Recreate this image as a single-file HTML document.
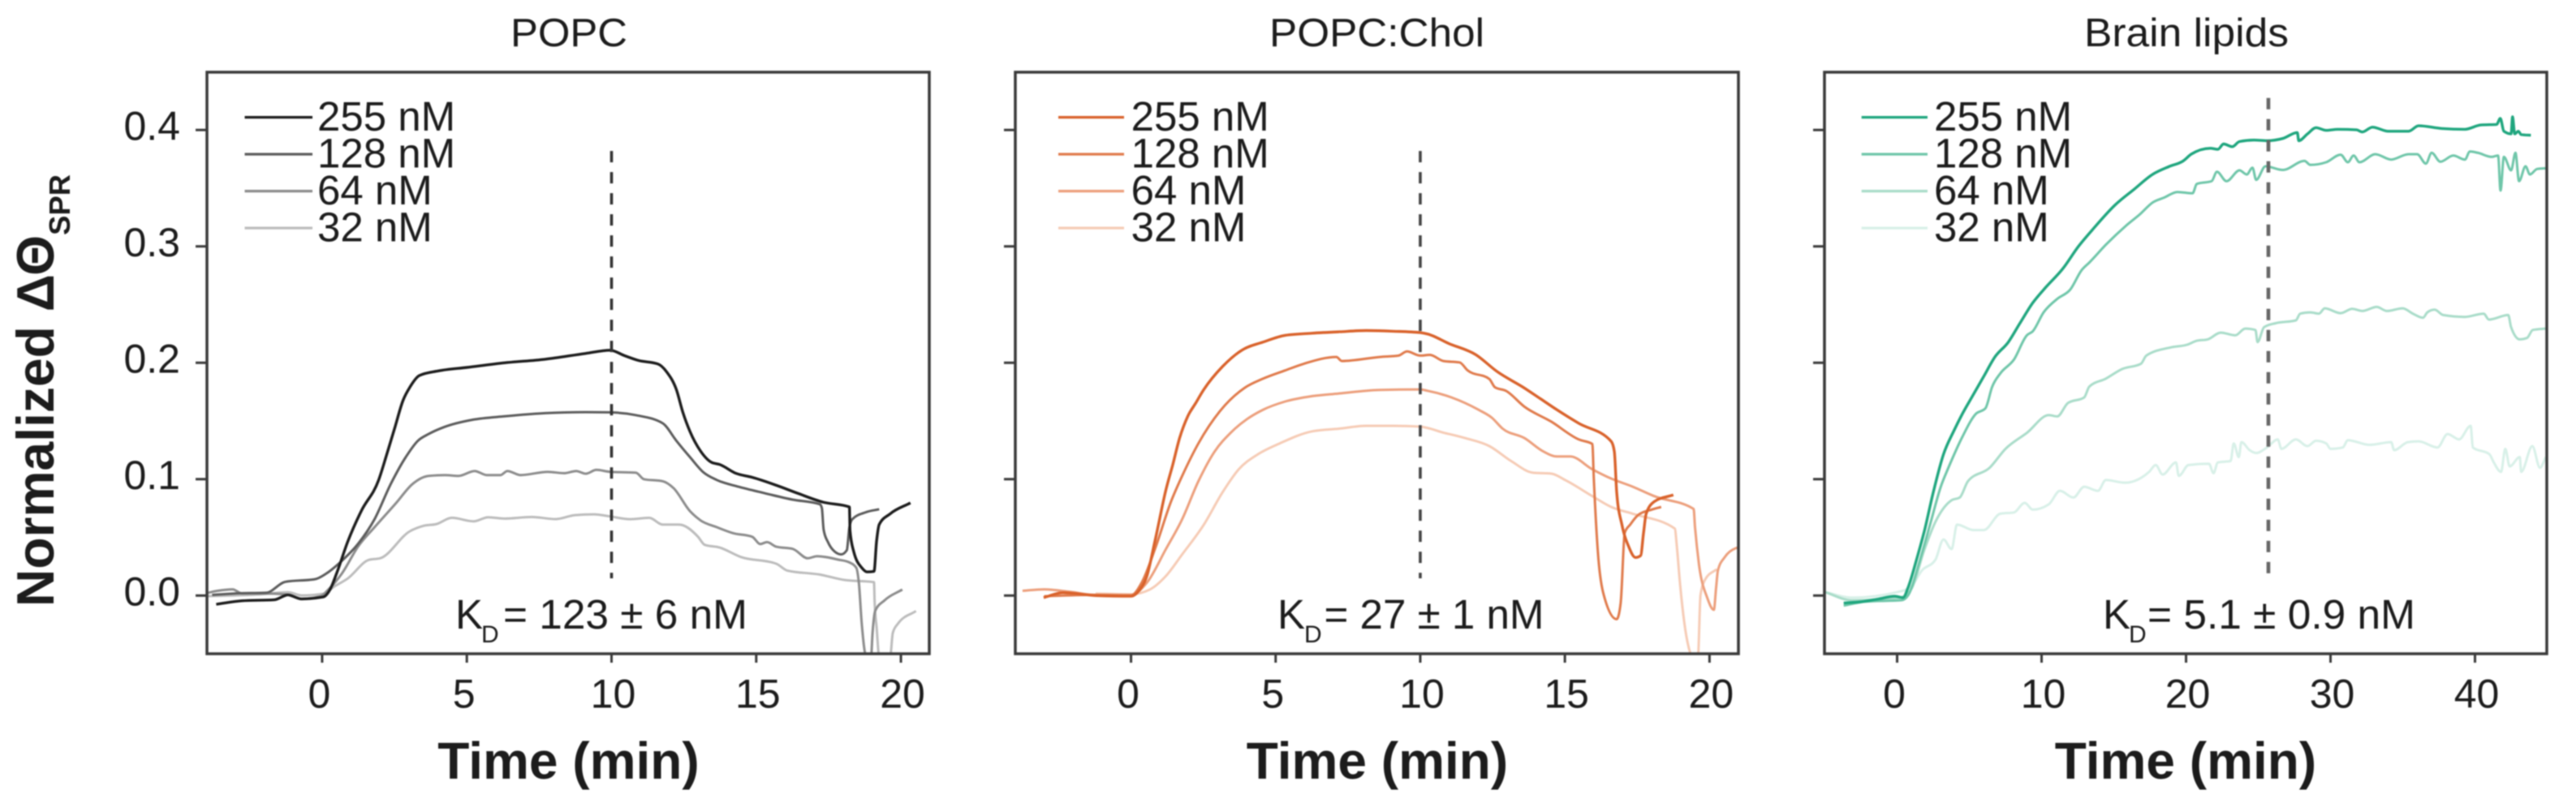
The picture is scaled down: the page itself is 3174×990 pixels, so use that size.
<!DOCTYPE html>
<html lang="en">
<head>
<meta charset="utf-8">
<title>Normalized SPR binding curves</title>
<style>
html,body{margin:0;padding:0;background:#fff;width:3174px;height:990px;overflow:hidden}
svg{display:block;filter:blur(0.8px)}
text{font-family:"Liberation Sans",Arial,sans-serif;fill:#1c1c1c}
.title{font-size:49px}
.legend{font-size:51px}
.tick{font-size:50px}
.kd{font-size:51px}
.kdsub{font-size:30px}
.axis{font-size:64px;font-weight:bold}
</style>
</head>
<body>
<svg id="chart" xmlns="http://www.w3.org/2000/svg" width="3174" height="990" viewBox="0 0 3174 990">
  <rect x="0" y="0" width="3174" height="990" fill="#fff"/>

  <text class="axis" transform="translate(66,748) rotate(-90)" style="font-size:65px" textLength="458" lengthAdjust="spacingAndGlyphs">Normalized ΔΘ</text>
  <text transform="translate(86,290) rotate(-90)" style="font-size:36px;font-weight:bold" textLength="75" lengthAdjust="spacingAndGlyphs">SPR</text>

  <text class="title" x="629" y="57" textLength="144" lengthAdjust="spacingAndGlyphs">POPC</text>
  <text class="title" x="1564" y="57" textLength="265" lengthAdjust="spacingAndGlyphs">POPC:Chol</text>
  <text class="title" x="2568" y="57" textLength="252" lengthAdjust="spacingAndGlyphs">Brain lipids</text>

  <text class="axis" x="700.5" y="960" text-anchor="middle">Time (min)</text>
  <text class="axis" x="1697" y="960" text-anchor="middle">Time (min)</text>
  <text class="axis" x="2693" y="960" text-anchor="middle">Time (min)</text>

  <g>
    <text class="kd" x="561" y="775">K</text>
    <text class="kdsub" x="593" y="792">D</text>
    <text class="kd" x="620" y="775" textLength="301" lengthAdjust="spacingAndGlyphs">= 123 ± 6 nM</text>
  </g>
  <g>
    <text class="kd" x="1574" y="775">K</text>
    <text class="kdsub" x="1607" y="792">D</text>
    <text class="kd" x="1631.5" y="775" textLength="271" lengthAdjust="spacingAndGlyphs">= 27 ± 1 nM</text>
  </g>
  <g>
    <text class="kd" x="2591" y="775">K</text>
    <text class="kdsub" x="2623" y="792">D</text>
    <text class="kd" x="2646" y="775" textLength="330" lengthAdjust="spacingAndGlyphs">= 5.1 ± 0.9 nM</text>
  </g>
</svg>

<script>
/* ---------- shared labels ---------- */
const concentrations = ["255 nM", "128 nM", "64 nM", "32 nM"];
const yTickValues = [0, 0.1, 0.2, 0.3, 0.4];
const yTickLabels = ["0.0", "0.1", "0.2", "0.3", "0.4"];
const popcXTicks = [0, 5, 10, 15, 20];
const cholXTicks = [0, 5, 10, 15, 20];
const brainXTicks = [0, 10, 20, 30, 40];

/* ---------- POPC ---------- */
const popc255Time = [-3.66,-2.77,-1.65,-1.18,-.71,.04,.27,.5,.88,1.35,1.95,2.23,2.52,2.8,3.03,3.36,4.01,5,6.3,7.7,9.1,9.95,10.46,10.93,11.6,11.91,12.24,12.47,12.71,13.08,13.45,13.74,14.3,14.86,15.7,16.45,17.3,18.22,18.24,18.37,18.65,18.83,19.07,19.16,19.25,19.63,20.33];
const popc255Value = [-.0075,-.0045,-.0036,.0006,-.0029,-.0012,.005,.019,.046,.0726,.099,.121,.145,.168,.179,.189,.193,.196,.2,.203,.208,.2108,.206,.202,.199,.192,.177,.157,.141,.124,.1145,.1126,.105,.1016,.0947,.0877,.0803,.0761,.056,.0378,.0238,.0203,.0208,.047,.061,.0703,.0796];
const popc128Time = [-3.8,-3.05,-1.93,-1.27,-.24,.13,.6,1.25,1.81,2.37,2.89,3.31,3.68,4.24,5.18,6.3,7.7,9.1,9.95,10.84,11.77,12.24,12.71,13.17,13.64,14.39,15.33,16.26,17.2,17.27,17.33,17.48,17.71,17.94,18.13,18.22,18.32,18.78,19.25];
const popc128Value = [.0006,.0018,.0025,.0118,.0141,.0187,.028,.0447,.0656,.0958,.119,.133,.1388,.145,.151,.154,.1567,.1576,.1574,.155,.148,.133,.119,.106,.0993,.0935,.0877,.0824,.0784,.075,.0564,.0459,.0378,.0354,.039,.0587,.0656,.0715,.0742];
const popc64Time = [-3.98,-3.61,-3.09,-2.77,-2.02,-1.27,-.71,-.06,.22,.69,1.25,1.81,2.56,3.12,3.68,4.24,4.71,5.27,5.69,6.16,6.4,6.86,7.8,8.36,8.78,9.11,9.48,9.95,10.84,11.12,11.77,12.14,12.71,13.08,13.64,14.2,14.86,15.14,15.37,15.7,16.26,16.78,17.1,17.85,18.22,18.46,18.55,18.65,18.8,18.97,19.02,19.11,19.44,20.05];
const popc64Value = [.0022,.0041,.0053,.0018,.0018,.0011,-.0029,-.0006,.0053,.0192,.0424,.0587,.0796,.0958,.1028,.1035,.1028,.107,.1035,.1035,.107,.1035,.1063,.1051,.107,.1047,.108,.1063,.1056,.1,.0982,.0924,.0726,.0645,.0587,.0536,.0505,.0443,.0459,.0419,.0401,.032,.0338,.0308,.0285,.0238,.0099,-.025,-.052,-.052,-.032,-.0133,-.004,.0052];
const popc32Time = [-3.98,-3.05,-2.11,-1.18,-.71,.04,.41,.88,1.63,2,3.03,3.5,3.96,4.48,5.23,5.74,6.3,7.24,8.08,8.73,9.39,9.95,10.65,11.3,11.77,12.33,12.99,13.22,13.74,14.48,15.7,16.07,17.2,18.04,19.07,19.09,19.16,19.25,19.63,19.72,19.91,20.52];
const popc32Value = [-.0005,.0001,.0011,.0029,.0001,.0015,.0076,.0146,.0308,.032,.0552,.0599,.0615,.0668,.0638,.0673,.0661,.0675,.0657,.0691,.0698,.068,.0656,.0668,.061,.061,.0505,.0436,.0412,.0331,.0273,.0215,.018,.0134,.0115,-.004,-.0273,-.052,-.052,-.032,-.0238,-.0133];

/* ---------- POPC:Chol ---------- */
const chol255Time = [-3.02,-2.35,-1.22,-.01,.27,.55,.83,1.21,1.44,1.68,1.96,2.24,2.52,3.17,3.83,4.57,5.33,6.26,7.19,8.13,9.07,10,10.24,10.98,11.92,12.67,13.6,14.16,14.72,15.47,16.6,16.71,16.79,16.97,17.2,17.44,17.62,17.72,17.81,18.09,18.75];
const chol255Value = [-.0017,.0025,0,-.0006,.0041,.0169,.047,.0912,.1121,.1353,.1539,.1655,.1771,.1969,.2108,.2178,.2236,.2254,.2266,.2277,.2271,.2259,.2248,.2166,.2069,.1922,.1783,.169,.1597,.1481,.1325,.1237,.0888,.061,.0424,.0327,.0343,.054,.0703,.0807,.0865];
const chol128Time = [-3,-1.22,-.01,.37,.83,1.4,1.77,2.33,3.08,3.92,4.57,5.33,5.98,7.1,7.29,8.6,9.25,9.54,10,10.33,10.8,11.36,11.64,12.39,12.58,12.96,13.61,14.54,15.48,15.95,16,16.14,16.32,16.79,16.93,17.07,17.26,17.53,18,18.33];
const chol128Value = [-.0006,.0006,0,.0111,.0401,.0819,.1028,.1307,.1586,.1783,.1864,.1934,.1992,.205,.2015,.205,.2062,.2097,.2062,.2068,.2015,.2003,.1934,.186,.179,.1759,.1621,.1492,.1341,.1302,.1005,.0377,.0029,-.0203,-.0064,.054,.061,.0691,.0738,.0761];
const chol64Time = [-3.75,-3,-2.16,-1.22,-.01,.55,1.21,1.77,2.33,2.89,3.45,4.01,4.57,5.33,6.26,7.19,8.6,10,10.24,11.08,12.01,12.48,12.85,13.6,14.26,14.72,15.19,15.94,16.6,17.35,18.09,19.45,19.5,19.64,19.92,20.15,20.23,20.29,20.53,20.9,21];
const chol64Value = [.0041,.0053,.0034,.0006,.0006,.0111,.0401,.0656,.0982,.1237,.14,.1516,.1597,.1667,.1713,.1736,.1767,.1771,.176,.1702,.1597,.1527,.1434,.1353,.1237,.1195,.1195,.1086,.1005,.0935,.0854,.0744,.0587,.0261,-.0018,-.0122,.0076,.0215,.0331,.0406,.0413];
const chol32Time = [-1.22,-.01,.65,1.21,1.77,2.52,3.17,3.73,4.39,5.14,6.26,7.19,8.13,9.07,10,10.8,11.55,12.39,13.14,13.89,14.54,15.01,15.95,16.6,17.35,18.8,18.87,18.99,19.23,19.41,19.6,19.69,19.87,20.25];
const chol32Value = [.0018,.0011,.0052,.0169,.0354,.061,.0889,.1086,.1214,.1307,.1411,.1434,.1458,.1458,.1451,.14,.1353,.1284,.1156,.1056,.1047,.0993,.0854,.0761,.0703,.0575,.0424,.0076,-.0389,-.052,-.052,.0006,.0146,.0227];

/* ---------- Brain lipids ---------- */
const brain255Time = [-3.7,-2.4,-1.28,-.16,.4,.78,1.34,1.9,2.46,3.21,3.96,4.52,5.27,6.02,6.77,7.7,8.45,9.39,10.33,11.45,12.57,13.5,15.1,16.4,17.7,18.8,19.8,20.36,21.68,22.2,22.6,23.2,23.7,24.7,25.6,26.7,27.7,27.8,28.4,29,29.7,30.5,31.8,32.2,32.9,34,35.4,36.1,37.7,39.3,40.4,41.5,41.75,42,42.5,42.6,42.75,43,43.2,43.87];
const brain255Value = [-.0064,-.0052,-.0029,-.0006,-.0018,.0076,.0308,.0563,.0865,.1214,.1423,.1562,.1725,.1888,.205,.2178,.2329,.2515,.2654,.2805,.3003,.314,.3357,.349,.362,.3685,.3734,.3792,.3843,.3834,.388,.3857,.3901,.3913,.3908,.3927,.3978,.3908,.3966,.402,.3997,.4006,.4001,.3983,.4024,.3989,.3989,.4036,.4013,.4006,.4043,.4048,.4099,.3989,.3966,.4113,.3966,.3989,.396,.3955];
const brain128Time = [-3.7,-2.2,.3,.78,1.53,2.28,3.02,3.59,4.52,5.46,6.11,6.58,7.15,8.08,8.98,9.39,10.14,11.08,12,12.76,13.32,14.45,15.87,16.8,17.7,18.5,19.4,20.45,20.75,21.77,22.14,22.8,23.7,24.2,24.6,24.85,25.5,26.7,28.2,28.6,29.7,30.7,31.2,31.6,32,33.1,34.2,35.4,36,36.6,37,37.6,38.5,39.3,39.65,40.2,41.15,41.6,41.77,42,42.5,42.8,43.05,43.5,43.8,44.3,44.9];
const brain128Value = [-.0087,-.0052,-.004,.0006,.0285,.061,.0935,.111,.1365,.1562,.1609,.1795,.191,.2027,.2236,.2271,.2433,.2549,.2631,.2794,.2863,.3014,.318,.3275,.3378,.342,.3467,.3456,.3537,.356,.3641,.356,.3653,.3618,.3676,.3572,.3688,.3657,.3734,.37,.3723,.3788,.3723,.3781,.3723,.3792,.3746,.3792,.3792,.3711,.3804,.3727,.378,.3746,.3816,.3804,.3769,.3781,.3479,.3769,.3653,.3804,.356,.3688,.3618,.3665,.3671];
const brain64Time = [-5,-3.15,.2,.96,1.9,2.65,3.77,4.33,4.9,6.4,7.5,9,10.5,11.08,11.83,12.95,13.3,14.45,15.57,16.88,17.25,18.94,20.07,20.75,21.5,22.4,23.4,24.1,24.8,24.95,25.4,26.2,27.6,27.9,28.6,29.2,29.6,30.7,31.5,32.2,33.2,33.9,35,35.7,36.4,36.7,37.2,37.8,39.3,40.6,40.97,42.3,42.5,43.1,43.6,44,44.9];
const brain64Value = [.003,-.0041,-.0017,.0052,.04,.0633,.0819,.0842,.0982,.1098,.126,.14,.155,.1539,.1655,.1702,.1795,.1864,.1946,.1992,.2062,.2132,.2155,.2189,.2201,.2259,.2236,.2294,.2282,.2178,.2306,.234,.2364,.2422,.2433,.2422,.2468,.2426,.2463,.2445,.248,.2445,.2468,.2422,.2387,.2433,.2456,.241,.2394,.2422,.2371,.241,.2306,.2201,.2213,.2282,.2294];
const brain32Time = [-5,-3.15,.03,.96,1.71,2.65,3.21,3.77,4.15,5.27,6,7.14,8.08,8.83,9.39,10.5,11.27,12.2,12.95,13.9,14.45,15.76,17.44,17.9,18.38,19.3,19.5,20.16,21.58,21.9,22.2,23.08,23.3,23.65,23.83,24.4,24.85,25.6,26.35,26.6,27.6,28.4,29,29.7,30,30.85,31.2,32.7,34.2,34.4,35.35,36.1,37.4,38.1,38.9,39.7,39.85,41,41.3,41.8,42.1,42.4,43.1,43.2,43.97,44.5,44.9];
const brain32Value = [.003,-.0018,.003,.0076,.0215,.0308,.0482,.04,.061,.0563,.0563,.0703,.0714,.0796,.0738,.0784,.09,.0842,.0935,.09,.0993,.097,.1063,.1121,.104,.1144,.1028,.1121,.1133,.1051,.1144,.1156,.1307,.119,.1318,.1249,.1225,.1272,.1342,.126,.1342,.1284,.133,.1307,.126,.1272,.1335,.1295,.1318,.1249,.1318,.1325,.1272,.1388,.1342,.1458,.1272,.1214,.1144,.1063,.126,.111,.119,.1063,.1284,.1098,.119];

/* ---------- vertical dashed markers (time, value range) ---------- */
const popcMarker = [10, 0.0148, 0.382];
const cholMarker = [10, 0.0148, 0.382];
const brainMarker = [25.7, 0.0148, 0.4275];

const SVGNS = "http://www.w3.org/2000/svg";
const root = document.getElementById("chart");

function make(tag, attrs, parent) {
  const node = document.createElementNS(SVGNS, tag);
  for (const k in attrs) node.setAttribute(k, attrs[k]);
  parent.appendChild(node);
  return node;
}

/* monotone cubic path: smooth between read points, never overshoots them */
function monotonePath(xs, ys) {
  const n = xs.length;
  const slopes = new Array(n).fill(0);
  for (let i = 1; i < n - 1; i++) {
    const h0 = xs[i] - xs[i - 1];
    const h1 = xs[i + 1] - xs[i];
    const s0 = (ys[i] - ys[i - 1]) / h0;
    const s1 = (ys[i + 1] - ys[i]) / h1;
    const p = (s0 * h1 + s1 * h0) / (h0 + h1);
    slopes[i] = (Math.sign(s0) + Math.sign(s1)) * Math.min(Math.abs(s0), Math.abs(s1), 0.5 * Math.abs(p));
  }
  slopes[0] = (ys[1] - ys[0]) / (xs[1] - xs[0]);
  slopes[n - 1] = (ys[n - 1] - ys[n - 2]) / (xs[n - 1] - xs[n - 2]);
  let d = "M" + xs[0].toFixed(1) + " " + ys[0].toFixed(1);
  for (let i = 0; i < n - 1; i++) {
    const dx = (xs[i + 1] - xs[i]) / 3;
    d += "C" + (xs[i] + dx).toFixed(1) + " " + (ys[i] + dx * slopes[i]).toFixed(1) + " "
      + (xs[i + 1] - dx).toFixed(1) + " " + (ys[i + 1] - dx * slopes[i + 1]).toFixed(1) + " "
      + xs[i + 1].toFixed(1) + " " + ys[i + 1].toFixed(1);
  }
  return d;
}

function drawPanel(cfg) {
  const xScale = t => cfg.left + (t - cfg.xMin) * (cfg.right - cfg.left) / (cfg.xMax - cfg.xMin);
  const yScale = v => 806 - (v - (-0.05)) * 1435;

  const group = make("g", {}, root);
  
  

  const clip = make("clipPath", { id: cfg.id + "-clip" }, group);
  make("rect", { x: cfg.left, y: 89, width: cfg.right - cfg.left, height: 717 }, clip);

  /* traces, lightest first */
  const traces = make("g", { "clip-path": "url(#" + cfg.id + "-clip)" }, group);
  
  
  for (let s = cfg.series.length - 1; s >= 0; s--) {
    const ser = cfg.series[s];
    const d = monotonePath(ser.time.map(xScale), ser.value.map(yScale));
    const line = make("path", { d: d, fill: "none", stroke: cfg.colors[s], "stroke-width": s === 0 ? 3.4 : 3, "stroke-linejoin": "round" }, traces);
    
    
  }

  /* dashed marker */
  const mk = make("line", {
    x1: xScale(cfg.marker[0]), x2: xScale(cfg.marker[0]),
    y1: yScale(cfg.marker[2]), y2: yScale(cfg.marker[1]),
    stroke: cfg.markerColor, "stroke-width": cfg.markerWidth, "stroke-dasharray": "14 12"
  }, group);
  
  

  /* frame */
  const frame = make("rect", {
    x: cfg.left, y: 89, width: cfg.right - cfg.left, height: 717,
    fill: "none", stroke: "#3a3a3a", "stroke-width": 3.5
  }, group);
  
  

  /* y ticks */
  yTickValues.forEach((v, i) => {
    const y = yScale(v);
    const tk = make("line", { x1: cfg.left - 14, x2: cfg.left, y1: y, y2: y, stroke: "#3a3a3a", "stroke-width": 3 }, group);
    
    
    if (cfg.showYLabels) {
      const lb = make("text", { class: "tick", x: cfg.left - 33, y: y + 12, "text-anchor": "end" }, group);
      lb.textContent = yTickLabels[i];
      
      
    }
  });

  /* x ticks */
  cfg.xTicks.forEach(t => {
    const x = xScale(t);
    const tk = make("line", { x1: x, x2: x, y1: 806, y2: 817, stroke: "#3a3a3a", "stroke-width": 3 }, group);
    
    
    const label = String(t);
    const lb = make("text", { class: "tick", x: x + (label.length === 1 ? -3.5 : 2), y: 872.5, "text-anchor": "middle" }, group);
    lb.textContent = label;
    
    
  });

  /* legend */
  concentrations.forEach((name, i) => {
    const y = 144.6 + i * 45.5;
    const sw = make("line", { x1: cfg.legendX1, x2: cfg.legendX2, y1: y, y2: y, stroke: cfg.colors[i], "stroke-width": 3.2 }, group);
    
    
    const lb = make("text", { class: "legend", x: cfg.legendText, y: y + 16.4 }, group);
    lb.textContent = name;
    
    
  });
}

drawPanel({
  id: "popc", left: 255, right: 1145, xMin: -3.98, xMax: 20.98,
  xTicks: popcXTicks, showYLabels: true, marker: popcMarker,
  markerColor: "#333", markerWidth: 3.6,
  legendX1: 301.5, legendX2: 385, legendText: 391,
  colors: ["#1c1c1c", "#5c5c5c", "#8c8c8c", "#bcbcbc"],
  series: [
    { time: popc255Time, value: popc255Value },
    { time: popc128Time, value: popc128Value },
    { time: popc64Time, value: popc64Value },
    { time: popc32Time, value: popc32Value }
  ]
});

drawPanel({
  id: "popc-chol", left: 1251, right: 2142, xMin: -4.0, xMax: 21.0,
  xTicks: cholXTicks, showYLabels: false, marker: cholMarker,
  markerColor: "#444", markerWidth: 3.6,
  legendX1: 1304, legendX2: 1385, legendText: 1393.6,
  colors: ["#d9622b", "#e07b4c", "#ec9f7c", "#f6cbb5"],
  series: [
    { time: chol255Time, value: chol255Value },
    { time: chol128Time, value: chol128Value },
    { time: chol64Time, value: chol64Value },
    { time: chol32Time, value: chol32Value }
  ]
});

drawPanel({
  id: "brain-lipids", left: 2248, right: 3138, xMin: -5.03, xMax: 44.97,
  xTicks: brainXTicks, showYLabels: false, marker: brainMarker,
  markerColor: "#666", markerWidth: 4.6,
  legendX1: 2293.7, legendX2: 2375, legendText: 2383,
  colors: ["#1fa67e", "#6fc6a9", "#a9dcc9", "#d8f0e8"],
  series: [
    { time: brain255Time, value: brain255Value },
    { time: brain128Time, value: brain128Value },
    { time: brain64Time, value: brain64Value },
    { time: brain32Time, value: brain32Value }
  ]
});
</script>
</body>
</html>
